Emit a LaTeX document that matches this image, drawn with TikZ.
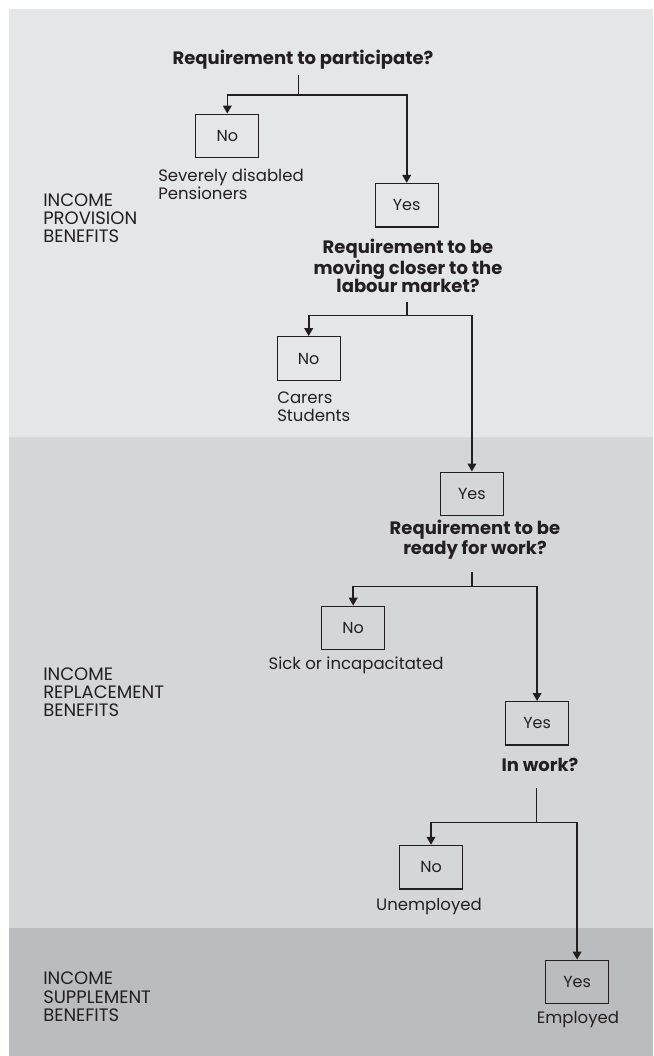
\documentclass[tikz,border=0pt]{standalone}
\usepackage{fontspec}
\setmainfont{Poppins}
\usetikzlibrary{arrows.meta}
\definecolor{ink}{RGB}{35,31,32}
\definecolor{provision}{RGB}{229,230,232}
\definecolor{replacement}{RGB}{213,214,216}
\definecolor{supplement}{RGB}{187,188,191}

\begin{document}
\begin{tikzpicture}[x=0.75pt,y=0.75pt,yscale=-1,xscale=1,
    answer/.style={draw=ink,line width=1pt,minimum width=47.25pt,minimum height=32.6pt,inner sep=0pt,text=ink,font=\fontsize{12}{13.7}\selectfont},
    question/.style={align=center,inner sep=0pt,text=ink,font=\bfseries\fontsize{13.5}{13.9}\selectfont},
    group/.style={align=left,inner sep=0pt,text=ink,font=\fontsize{12.4}{13.7}\selectfont},
    band/.style={anchor=west,align=left,inner sep=0pt,text=ink,font=\fontsize{13.5}{13.7}\selectfont},
    link/.style={draw=ink,line width=1.2pt},
    pointer/.style={link,-{Triangle[width=6.5pt,length=6pt]}}]
  \useasboundingbox (0,0) rectangle (653,1056);

  %Shape: Bands
  \fill [provision] (9,9) rectangle (653,436.7);
  \fill [replacement] (9,436.7) rectangle (653,928.3);
  \fill [supplement] (9,928.3) rectangle (653,1056);

  % Band labels
  \node [band] (provlbl) at (43,218.3) {INCOME\\PROVISION\\BENEFITS};
  \node [band] (repllbl) at (43,692.3) {INCOME\\REPLACEMENT\\BENEFITS};
  \node [band] (supplbl) at (43,996.7) {INCOME\\SUPPLEMENT\\BENEFITS};

  % Questions
  \node [question] (q1) at (303,60) {Requirement to participate?};
  \node [question] (q2) at (408,266) {Requirement to be\\moving closer to the\\labour market?};
  \node [question] (q3) at (475,539.3) {Requirement to be\\ready for work?};
  \node [question] (q4) at (540,765) {In work?};

  % Answer boxes
  \node [answer] (no1) at (227.3,136) {No};
  \node [answer] (yes1) at (406.7,205.3) {Yes};
  \node [answer] (no2) at (308.7,358.5) {No};
  \node [answer] (yes2) at (471.9,493.9) {Yes};
  \node [answer] (no3) at (353.2,628) {No};
  \node [answer] (yes3) at (537.1,723.4) {Yes};
  \node [answer] (no4) at (431,867.2) {No};
  \node [answer] (yes4) at (577.1,982) {Yes};

  % Groups under the boxes
  \node [group,anchor=west] (grp1) at (158,184) {Severely disabled\\Pensioners};
  \node [group,anchor=west] (grp2) at (277,406.7) {Carers\\Students};
  \node [group] (grp3) at (356,665.7) {Sick or incapacitated};
  \node [group] (grp4) at (429,906.7) {Unemployed};
  \node [group] (grp5) at (578,1020) {Employed};

  % Stems and junctions
  \coordinate (t1) at (298.3,75);    \coordinate (j1) at (298.3,95);
  \coordinate (t2) at (406.7,301.7); \coordinate (j2) at (406.7,315.3);
  \coordinate (t3) at (472,571.7);   \coordinate (j3) at (472,586.3);
  \coordinate (t4) at (536.3,788.3); \coordinate (j4) at (536.3,822.3);

  %Connectors
  \draw [link] (t1) -- (j1);
  \draw [pointer] (j1) -| (no1);
  \draw [pointer] (j1) -| (yes1);
  \draw [link] (t2) -- (j2);
  \draw [pointer] (j2) -| (no2);
  \draw [pointer] (j2) -| (yes2);
  \draw [link] (t3) -- (j3);
  \draw [pointer] (j3) -| (no3);
  \draw [pointer] (j3) -| (yes3);
  \draw [link] (t4) -- (j4);
  \draw [pointer] (j4) -| (no4);
  \draw [pointer] (j4) -| (yes4);
\end{tikzpicture}
\end{document}
